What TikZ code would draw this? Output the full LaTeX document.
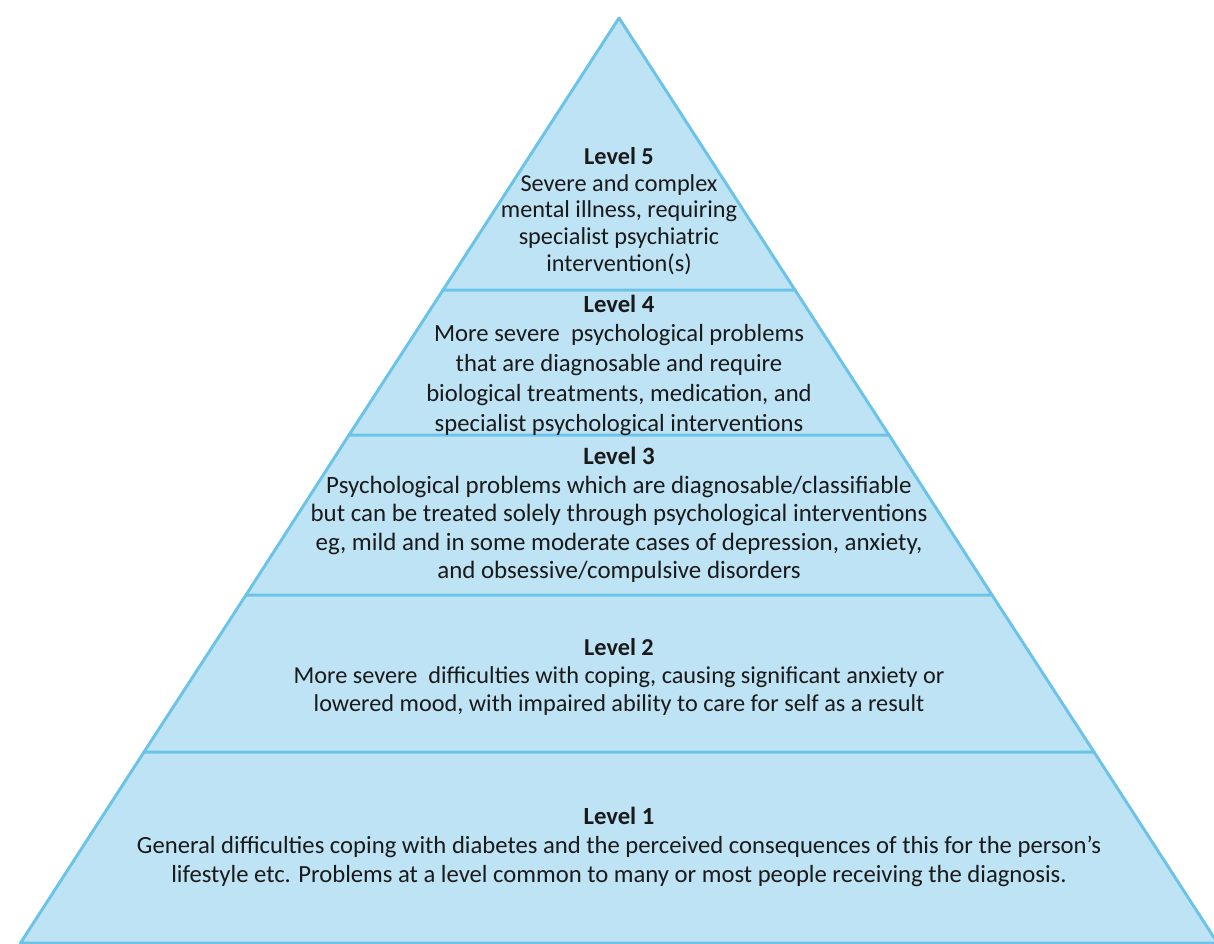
\documentclass[tikz,border=0pt]{standalone}
\usepackage{fontspec}
\setmainfont{Carlito}
\definecolor{bandfill}{HTML}{BDE3F5}
\definecolor{bandline}{HTML}{6BC4E8}
\definecolor{txt}{HTML}{1A1A1A}
\tikzset{
  band/.style={fill=bandfill, draw=bandline, line width=2.2pt, line join=round},
  lvl/.style={align=center, text=txt, inner sep=0pt}
}
\begin{document}
\begin{tikzpicture}[x=0.75pt,y=-0.75pt]
\useasboundingbox (0,0) rectangle (1214,943);
\fill[white] (0,0) rectangle (1214,943);
\clip (0,0) rectangle (1214,943);
\coordinate (A) at (619,18);
\coordinate (L5) at (443,290);   \coordinate (R5) at (795,290);
\coordinate (L4) at (349,435);   \coordinate (R4) at (889,435);
\coordinate (L3) at (246,595);   \coordinate (R3) at (992,595);
\coordinate (L2) at (144,752);   \coordinate (R2) at (1094,752);
\coordinate (L1) at (20.5,943);  \coordinate (R1) at (1217.5,943);
\path[band] (L2) -- (R2) -- (R1) -- (L1) -- cycle;
\path[band] (L3) -- (R3) -- (R2) -- (L2) -- cycle;
\path[band] (L4) -- (R4) -- (R3) -- (L3) -- cycle;
\path[band] (L5) -- (R5) -- (R4) -- (L4) -- cycle;
\path[band] (A) -- (R5) -- (L5) -- cycle;

\node[lvl, font=\fontsize{18.2}{20}\selectfont] (t5) at (619,211) {\textbf{Level 5}\\Severe and complex\\mental illness, requiring\\specialist psychiatric\\intervention(s)};
\node[lvl, font=\fontsize{18.5}{22.3}\selectfont] (t4) at (619,365) {\textbf{Level 4}\\More severe\ \ psychological problems\\that are diagnosable and require\\biological treatments, medication, and\\specialist psychological interventions};
\node[lvl, font=\fontsize{18.7}{21.3}\selectfont] (t3) at (619,515) {\textbf{Level 3}\\Psychological problems which are diagnosable/classifiable\\but can be treated solely through psychological interventions\\eg, mild and in some moderate cases of depression, anxiety,\\and obsessive/compulsive disorders};
\node[lvl, font=\fontsize{18.2}{21}\selectfont] (t2) at (619,677) {\textbf{Level 2}\\More severe\ \ difficulties with coping, causing significant anxiety or\\lowered mood, with impaired ability to care for self as a result};
\node[lvl, font=\fontsize{18.5}{21.5}\selectfont] (t1) at (619,847) {\textbf{Level 1}\\General difficulties coping with diabetes and the perceived consequences of this for the person’s\\lifestyle etc. Problems at a level common to many or most people receiving the diagnosis.};
\end{tikzpicture}
\end{document}
